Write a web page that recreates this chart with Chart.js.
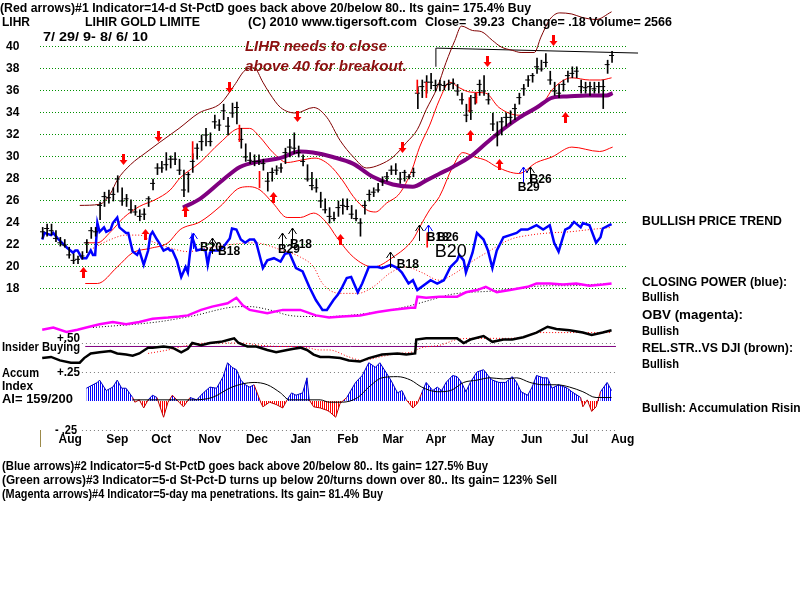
<!DOCTYPE html>
<html><head><meta charset="utf-8">
<script src="https://cdn.jsdelivr.net/npm/chart.js@4.4.1/dist/chart.umd.min.js"></script>
<style>
body{margin:0;background:#fff;}
#wrap{position:relative;width:800px;height:600px;overflow:hidden;background:#fff;}
#c{position:absolute;left:0;top:0;}
.t{position:absolute;white-space:pre;font:bold 12px "Liberation Sans",Arial,sans-serif;line-height:14px;color:#000;transform-origin:0 50%;}
.r{color:#8c1010;font:italic bold 15px "Liberation Sans",Arial,sans-serif;line-height:18px;}
#tick{position:absolute;left:40px;top:430px;width:1px;height:17px;background:#9c8a4a;}
</style></head><body>
<div id="wrap"><canvas id="c" width="800" height="600"></canvas>
<div class="t" data-x="0" data-y="8" data-w="531">(Red arrows)#1 Indicator=14-d St-PctD goes back above 20/below 80.. Its gain= 175.4% Buy</div>
<div class="t" data-x="2" data-y="22" data-w="28">LIHR</div>
<div class="t" data-x="85" data-y="22" data-w="115">LIHIR GOLD LIMITE</div>
<div class="t" data-x="248" data-y="22" data-w="169">(C) 2010 www.tigersoft.com</div>
<div class="t" data-x="425" data-y="22" data-w="247">Close=  39.23  Change= .18 Volume= 2566</div>
<div class="t" data-x="43" data-y="37" data-w="105">7/ 29/ 9- 8/ 6/ 10</div>
<div class="t r" data-x="245" data-y="46" data-w="142">LIHR needs to close</div>
<div class="t r" data-x="245" data-y="66" data-w="162">above 40 for breakout.</div>
<div class="t" data-x="642" data-y="221" data-w="140">BULLISH PRICE TREND</div>
<div class="t" data-x="642" data-y="282" data-w="145">CLOSING POWER (blue):</div>
<div class="t" data-x="642" data-y="297" data-w="37">Bullish</div>
<div class="t" data-x="642" data-y="315" data-w="101">OBV (magenta):</div>
<div class="t" data-x="642" data-y="331" data-w="37">Bullish</div>
<div class="t" data-x="642" data-y="348" data-w="151">REL.STR..VS DJI (brown):</div>
<div class="t" data-x="642" data-y="364" data-w="37">Bullish</div>
<div class="t" data-x="642" data-y="408" data-w="166">Bullish: Accumulation Rising</div>
<div class="t" data-x="2" data-y="347" data-w="78">Insider Buying</div>
<div class="t" data-x="2" data-y="373" data-w="37">Accum</div>
<div class="t" data-x="2" data-y="386" data-w="31">Index</div>
<div class="t" data-x="2" data-y="399" data-w="71">AI= 159/200</div>
<div class="t" data-x="57" data-y="338" data-w="23">+.50</div>
<div class="t" data-x="57" data-y="372" data-w="23">+.25</div>
<div class="t" data-x="55" data-y="430" data-w="22">- .25</div>
<div class="t" data-x="2" data-y="466" data-w="486">(Blue arrows)#2 Indicator=5-d St-PctD goes back above 20/below 80.. Its gain= 127.5% Buy</div>
<div class="t" data-x="2" data-y="480" data-w="555">(Green arrows)#3 Indicator=5-d St-Pct-D turns up below 20/turns down over 80.. Its gain= 123% Sell</div>
<div class="t" data-x="2" data-y="494" data-w="381">(Magenta arrows)#4 Indicator=5-day ma penetrations. Its gain= 81.4% Buy</div>
<div id="tick"></div>
</div>
<script>
// ---------- DATA (x = trading-day index from 7/29/09) ----------
const monthLabels = ['Aug','Sep','Oct','Nov','Dec','Jan','Feb','Mar','Apr','May','Jun','Jul','Aug'];
const monthPos = [12.7,34,53.9,76,97.3,117.2,138.5,159,178.4,199.6,221.8,243.5,263];
const priceTicks = [18,20,22,24,26,28,30,32,34,36,38,40];

const barLow = [22.6,22.8,22.9,22.3,21.9,21.8,20.8,20.3,20.3,20.7,
21.3,22.6,22.8,24.3,25.5,25.8,26.0,26.8,25.6,25.5,
24.9,24.7,24.2,24.3,25.5,27.0,28.4,28.6,28.8,29.0,
29.3,28.4,26.4,26.8,28.6,29.8,30.6,31.0,31.0,32.6,
32.4,33.4,32.0,33.6,33.0,30.8,29.6,29.4,29.2,29.3,
28.8,26.9,27.8,28.4,28.6,29.4,30.0,30.3,30.0,29.2,
27.8,27.0,26.8,25.4,24.9,24.0,24.2,24.6,24.8,25.2,
24.4,24.2,22.8,24.8,26.0,26.4,26.8,27.4,27.8,28.4,
28.4,27.6,27.8,28.0,28.2,34.4,35.4,35.8,36.2,36.0,
36.0,36.1,36.1,36.2,35.6,34.8,33.2,33.4,34.8,35.6,
35.6,34.8,32.4,31.0,32.0,32.8,33.0,33.4,34.8,35.6,
36.4,36.8,37.6,37.8,38.2,36.6,35.6,35.4,36.0,36.8,
37.2,37.2,35.8,35.8,35.6,35.8,35.8,34.4,37.6,38.6];
const barHigh = [23.6,23.9,23.9,23.3,22.7,22.5,21.8,21.2,21.0,21.4,
22.5,23.6,23.6,25.9,26.8,27.0,27.2,28.3,27.2,26.6,
26.1,25.6,25.2,25.3,26.4,28.0,29.4,29.6,30.4,30.1,
30.4,29.8,28.8,28.6,30.3,31.2,32.0,32.6,32.2,33.8,
33.4,34.8,33.6,34.9,35.0,32.6,31.2,30.4,30.2,30.2,
29.8,28.6,29.0,29.2,29.4,30.8,31.6,32.2,31.0,30.2,
29.3,28.6,28.0,26.8,26.2,25.4,25.0,26.0,26.2,26.2,
25.6,25.2,24.4,26.0,27.0,27.2,27.6,28.2,28.6,29.2,
29.4,28.6,28.8,28.4,29.0,36.4,37.0,37.4,37.6,37.0,
37.0,36.9,37.0,37.1,36.6,35.8,34.8,35.6,35.8,37.0,
37.4,35.8,34.0,33.2,33.6,34.0,34.2,34.8,35.8,36.6,
37.4,37.6,39.0,38.8,39.4,37.8,36.8,36.6,37.0,37.8,
38.2,38.2,37.0,36.8,36.8,36.8,36.8,37.0,38.8,39.6];
const barClose = [23.2,23.5,23.3,22.6,22.2,22.0,21.1,20.6,20.7,21.0,
22.2,23.3,23.2,25.6,26.4,26.3,26.6,28.0,26.0,26.2,
25.2,25.0,24.6,24.8,26.2,27.6,29.0,29.0,29.3,29.8,
29.8,28.8,27.0,28.4,29.6,30.8,31.4,32.0,31.4,33.2,
32.9,34.2,32.8,34.0,34.5,31.6,30.0,29.7,29.6,29.6,
29.4,27.8,28.6,28.8,29.0,30.4,30.9,30.8,30.4,29.6,
28.0,27.4,27.2,26.0,25.2,24.6,24.4,25.4,25.6,25.5,
24.8,24.4,24.0,25.6,26.6,26.8,27.0,27.8,28.2,28.8,
28.8,28.0,28.6,28.2,28.6,35.8,36.4,36.8,36.8,36.5,
36.6,36.5,36.6,36.7,36.0,35.2,33.8,34.2,35.4,36.6,
36.0,35.2,33.0,32.0,33.2,33.6,33.6,34.4,35.4,36.2,
37.0,37.4,38.2,38.0,38.6,37.0,36.0,35.8,36.6,37.4,
37.6,37.8,36.4,36.3,36.4,36.2,36.4,36.4,38.4,39.23];
const barDays = barClose.map((_, k) => 2 * k);

const upperBand = [[17,25.6],[26,25.7],[31,26.7],[34,27.9],[40,29.3],[47,30.4],[53,31.3],[62,32.6],[71,34.0],[81,34.9],[87,36.5],[92,37.9],[96,38.1],[100,36.8],[103,35.8],[108,34.5],[115,34.0],[123,34.5],[129,33.6],[135,31.5],[141,30.0],[147,29.0],[153,29.3],[159,30.0],[165,31.3],[170,32.5],[174,34.3],[179,36.3],[183,38.6],[187,40.6],[190,41.9],[195,41.5],[199,41.4],[204,40.6],[208,40.0],[213,39.7],[217,39.5],[223,39.5],[226,40.9],[230,42.5],[234.5,43.1],[240,43.0],[244.5,42.7],[251,42.5],[258,43.2]];
const midBand = [[19.5,22.2],[25,22.2],[31,23.2],[37,24.5],[44,25.5],[51,26.1],[58,27.0],[62.5,28.1],[71.5,29.5],[80.6,31.3],[89.6,32.6],[94,32.6],[98.7,31.8],[104.6,30.4],[111,29.5],[117,29.7],[123.6,29.9],[130,29.3],[136,27.9],[141,26.4],[147,25.2],[151,25.0],[156,25.8],[162,26.7],[167.5,28.8],[171,30.9],[175.6,32.9],[180,35.2],[184.7,36.8],[189,36.3],[194,35.9],[201,35.8],[207,34.5],[216,33.8],[221,34.0],[228,35.2],[231,36.1],[240,37.2],[248,37.0],[253,37.0],[258,37.2]];
const lowBand = [[19.5,18.5],[25,18.5],[34,20.0],[41,21.3],[49,21.7],[57,22.2],[62.5,23.4],[71.5,24.1],[80.6,25.5],[89.6,27.2],[94,27.3],[98.7,27.0],[104.6,25.8],[111,24.5],[117,24.5],[123,24.9],[129,24.0],[133.5,22.7],[141,20.9],[150,20.0],[159,20.9],[168,22.5],[171,23.6],[175.6,25.2],[180,26.4],[186,29.1],[190.6,30.4],[196,30.0],[201,29.7],[206,29.1],[216,28.5],[224,29.5],[231,30.0],[240,30.9],[252.6,30.5],[258.5,30.9]];
const priceMA = [[63.8,25.4],[71.5,26.2],[80.6,27.7],[89.6,29.1],[98.7,29.6],[107.7,29.9],[116.8,30.5],[122.7,30.4],[131.7,30.0],[140.8,29.4],[149.8,28.2],[158.9,27.5],[167.9,27.3],[174.3,27.9],[180.2,28.5],[186.1,29.1],[193.8,30.0],[201.4,31.3],[208.7,32.5],[216.4,33.6],[224.1,34.5],[231.3,35.4],[237.7,35.5],[246.7,35.6],[255.8,35.6],[258.5,35.8]];

const closingPower = [[0,22.5],[1,23.1],[4,22.9],[5,23.1],[7,22.6],[9,22.2],[11,21.8],[14,21.3],[15,21.5],[16,21.5],[18,20.8],[20,20.8],[22,21.5],[23,21.1],[24,21.1],[25,24.0],[26,23.2],[28,23.6],[29,23.2],[31,23.4],[32,24.0],[34,24.5],[35,23.6],[38,23.1],[39,23.1],[41,21.4],[43,21.1],[44,21.5],[46,20.2],[48,21.5],[49,22.9],[50,23.2],[52,22.5],[53,22.2],[55,21.5],[57,21.7],[58,21.5],[59,21.5],[61,20.6],[63,19.1],[65,20.0],[66,19.5],[67,21.3],[68,22.7],[70,21.5],[72,21.6],[74,21.5],[75,20.2],[76,21.3],[77,21.5],[80,21.5],[82,21.8],[85,22.6],[86,23.5],[88,23.4],[90,22.5],[92,22.2],[94,22.5],[96,22.5],[97,22.2],[100,19.9],[102,20.6],[105,20.8],[108,20.5],[110,21.2],[112,21.3],[115,19.9],[118,19.6],[121,18.2],[124,17.0],[126,16.4],[127,16.1],[129,16.1],[132,17.0],[134,17.5],[136,18.2],[138,19.0],[140,19.1],[143,17.7],[145,18.5],[148,20.0],[152,20.0],[154,19.9],[158,20.2],[161,19.9],[163,19.5],[166,18.5],[168,18.8],[170,17.9],[172,18.2],[176,18.8],[179,18.5],[182,18.8],[185,20.0],[188,20.6],[189,21.1],[191,20.6],[192,19.5],[195,21.3],[197,23.1],[200,22.5],[202,21.5],[204,19.9],[206,21.5],[209,22.7],[212,22.9],[215,23.1],[217,23.4],[220,23.4],[222,23.6],[224,23.8],[227,23.4],[230,23.8],[232,22.2],[234,21.4],[237,23.4],[239,23.6],[241,24.1],[244,23.6],[245,24.0],[248,23.8],[251,22.2],[253,22.7],[254,23.5],[257,23.8],[258,23.9]];
const closingPowerMA = [[23,21.7],[31,22.5],[38,22.9],[44,22.9],[50,22.3],[57,21.8],[66,21.4],[77,21.8],[96,22.2],[109,21.5],[117,20.9],[123,20.0],[127,18.5],[135,17.6],[143,17.6],[150,18.2],[158,19.5],[165,20.0],[172,19.5],[180,18.8],[186,19.3],[194,20.4],[203,21.5],[212,22.5],[221,22.9],[230,23.1],[239,23.2],[248,23.4],[258,23.6]];

const obv = [[0,14.3],[5,14.5],[11,14.1],[16,14.3],[20,14.5],[26,14.8],[32,15.0],[38,14.8],[44,15.0],[50,15.3],[57,15.4],[62,15.5],[66,15.6],[72,16.1],[77,16.4],[84,16.7],[88,17.2],[91,16.5],[94,16.1],[102,15.8],[109,16.1],[117,16.1],[124,15.6],[130,15.4],[136,15.5],[144,15.6],[152,15.9],[158,16.1],[167,16.3],[169,16.3],[170,17.3],[174,17.2],[180,17.3],[188,17.3],[192,17.7],[197,17.9],[201,18.2],[206,17.7],[212,17.9],[220,18.2],[224,18.5],[230,18.5],[236,18.4],[242,18.5],[248,18.3],[254,18.4],[258,18.5]];
const obvMA = [[23,14.5],[52,15.0],[67,15.5],[90,16.4],[94,16.4],[103,16.1],[112,15.6],[121,15.5],[130,15.5],[139,15.6],[148,15.8],[158,16.1],[167,16.5],[176,17.0],[185,17.5],[194,17.7],[203,17.8],[212,18.0],[221,18.2],[230,18.3],[239,18.3],[248,18.4],[258,18.5]];

const relStr = [[0,0.37],[4,0.38],[8,0.35],[13,0.33],[17,0.33],[19,0.37],[22,0.41],[26,0.42],[31,0.43],[34,0.41],[38,0.40],[41,0.39],[44,0.41],[48,0.46],[50,0.46],[55,0.47],[59,0.46],[63,0.42],[66,0.45],[68,0.50],[72,0.48],[76,0.50],[81,0.51],[85,0.53],[87,0.54],[89,0.50],[93,0.47],[97,0.47],[102,0.44],[106,0.42],[111,0.44],[114,0.45],[117,0.46],[120,0.44],[123,0.40],[126,0.38],[130,0.38],[135,0.37],[139,0.35],[144,0.34],[148,0.37],[154,0.40],[161,0.41],[165,0.40],[169,0.41],[169.5,0.53],[174,0.54],[180,0.54],[188,0.54],[191,0.50],[194,0.53],[200,0.56],[204,0.51],[209,0.53],[213,0.53],[218,0.55],[224,0.59],[229,0.64],[233,0.62],[239,0.61],[245,0.59],[249,0.57],[254,0.59],[258,0.61]];
const relStrMA = [[48,0.41],[57,0.44],[66,0.48],[75,0.50],[84,0.50],[90,0.50],[99,0.48],[108,0.47],[117,0.47],[126,0.44],[130,0.44],[139,0.38],[145,0.35],[153,0.38],[161,0.41],[167,0.42],[172,0.46],[180,0.48],[188,0.53],[195,0.54],[203,0.54],[210,0.54],[218,0.55],[224,0.59],[230,0.59],[236,0.59],[242,0.59],[248,0.59],[254,0.59],[258,0.59]];
const insiderLine = [[19.5,0.47],[260,0.47]];

const accumIndex = [[20,0.11],[25,0.16],[26,0.18],[29,0.09],[32,0.12],[34,0.18],[36,0.11],[38,0.11],[41,0.03],[42,-0.01],[44,0.01],[46,-0.06],[48,0.01],[50,0.05],[52,0.03],[55,-0.14],[57,-0.01],[59,0.05],[62,-0.01],[64,-0.05],[67,0.03],[70,0.01],[73,0.07],[76,0.12],[79,0.11],[82,0.21],[84,0.33],[86,0.29],[88,0.27],[90,0.18],[92,0.14],[94,0.12],[96,0.14],[99,-0.01],[100,-0.05],[103,-0.01],[106,-0.03],[109,-0.06],[111,0.01],[113,0.07],[115,0.05],[118,0.07],[120,0.20],[121,0.01],[123,-0.05],[126,-0.06],[129,-0.08],[130,-0.09],[133,-0.14],[135,-0.02],[138,0.03],[142,0.16],[145,0.22],[148,0.33],[151,0.29],[153,0.33],[156,0.24],[158,0.18],[161,0.07],[163,0.09],[165,0.01],[168,-0.06],[170,-0.02],[172,0.07],[174,0.16],[177,0.09],[179,0.12],[181,0.09],[183,0.16],[186,0.22],[188,0.21],[190,0.16],[192,0.08],[194,0.16],[197,0.25],[200,0.27],[202,0.22],[204,0.18],[207,0.16],[210,0.16],[213,0.21],[215,0.16],[217,0.08],[220,0.05],[222,0.12],[224,0.22],[227,0.20],[229,0.20],[231,0.11],[234,0.14],[238,0.11],[240,0.08],[244,0.03],[245,-0.05],[247,0.01],[249,-0.09],[251,-0.05],[253,0.08],[256,0.16],[258,0.09]];
const accumMA = [[41,0.01],[50,0.01],[59,0.01],[68,0.01],[77,0.03],[86,0.12],[96,0.16],[102,0.14],[108,0.07],[112,0.01],[120,0.01],[126,0.01],[130,-0.01],[136,-0.01],[143,0.03],[148,0.12],[154,0.20],[161,0.21],[167,0.18],[172,0.12],[179,0.08],[185,0.09],[191,0.16],[197,0.18],[203,0.20],[209,0.19],[215,0.20],[221,0.16],[227,0.14],[233,0.14],[239,0.12],[245,0.08],[251,0.03],[258,0.03]];
const accLevels = [0.5, 0.25, -0.25];
const accLevelSpan = [18, 260];

const resistLine = [[178.4,38.2],[178.4,39.9],[270,39.45]];
const redBars = [[68.4,29.8,31.4],[89.6,31.4,32.9],[98.7,27.2,28.7],[170.2,35.8,37.0],[174.3,35.4,36.8],[174.7,21.8,23.1],[193.8,34.1,35.4],[197,34.9,35.8]];
const redArrowsDown = [[36.7,29.7],[52.5,31.8],[84.7,36.3],[115.4,33.6],[163.0,30.8],[201.4,38.6],[231.3,40.5]];
const redArrowsUp = [[18.6,19.5],[46.6,23.0],[64.7,25.1],[104.6,26.4],[134.9,22.5],[193.8,32.0],[206.9,29.4],[236.8,33.6]];
const signalArrows = [[68.4,23.1,'#0000ff'],[77.0,22.6,'#000'],[108.6,23.1,'#000'],[113.2,23.5,'#000'],[157.5,21.4,'#000'],[170.7,23.8,'#000'],[174.7,23.8,'#0000ff'],[217.7,29.1,'#0000ff'],[220.9,29.1,'#000']];
const signalLabels = [['B20',71.5,21.8,12],['B18',79.7,21.4,12],['B29',106.8,21.6,12],['B18',112.3,22.0,12],['B18',160.7,20.2,12],['B18',174.3,22.7,12],['B26',178.8,22.7,12],['B20',177.9,21.4,18],['B29',215.5,27.2,12],['B26',220.9,27.9,12]];

// ---------- helpers ----------
const pts = a => a.map(p => ({x: p[0], y: p[1]}));
function stripe(color){
  const c = document.createElement('canvas'); c.width = 2; c.height = 1;
  const g = c.getContext('2d'); g.fillStyle = color; g.fillRect(0,0,1,1);
  return g.createPattern(c, 'repeat');
}
const FONT = '"Liberation Sans", Arial, sans-serif';

const marks = {
  id: 'marks',
  beforeDatasetsDraw(chart){
    const {ctx, scales:{x, acc}} = chart;
    ctx.save(); ctx.strokeStyle = '#7a7a7a'; ctx.lineWidth = 1; ctx.setLineDash([1,3]);
    accLevels.forEach(v => {
      const py = Math.round(acc.getPixelForValue(v)) + 0.5;
      ctx.beginPath(); ctx.moveTo(x.getPixelForValue(accLevelSpan[0]), py);
      ctx.lineTo(x.getPixelForValue(accLevelSpan[1]), py); ctx.stroke();
    });
    ctx.restore();
  },
  afterDatasetsDraw(chart){
    const {ctx, scales:{x, y}} = chart;
    ctx.save();
    ctx.fillStyle = '#ff0000';
    redArrowsDown.forEach(([d,p]) => {
      const px = Math.round(x.getPixelForValue(d)), py = Math.round(y.getPixelForValue(p));
      ctx.fillRect(px-1, py-6, 3, 6);
      ctx.beginPath(); ctx.moveTo(px-3.5, py); ctx.lineTo(px+4.5, py); ctx.lineTo(px+0.5, py+5); ctx.closePath(); ctx.fill();
    });
    redArrowsUp.forEach(([d,p]) => {
      const px = Math.round(x.getPixelForValue(d)), py = Math.round(y.getPixelForValue(p));
      ctx.fillRect(px-1, py, 3, 6);
      ctx.beginPath(); ctx.moveTo(px-3.5, py); ctx.lineTo(px+4.5, py); ctx.lineTo(px+0.5, py-5); ctx.closePath(); ctx.fill();
    });
    ctx.lineWidth = 1;
    signalArrows.forEach(([d,p,col]) => {
      const px = Math.round(x.getPixelForValue(d)) + 0.5, py = Math.round(y.getPixelForValue(p));
      ctx.strokeStyle = col; ctx.beginPath();
      ctx.moveTo(px, py); ctx.lineTo(px, py + 16);
      ctx.moveTo(px-4, py+6); ctx.lineTo(px, py); ctx.lineTo(px+4, py+6); ctx.stroke();
    });
    ctx.fillStyle = '#000'; ctx.textBaseline = 'middle'; ctx.textAlign = 'left';
    signalLabels.forEach(([t,d,p,s]) => {
      ctx.font = (s > 14 ? '' : 'bold ') + s + 'px ' + FONT;
      ctx.fillText(t, x.getPixelForValue(d), y.getPixelForValue(p));
    });
    ctx.restore();
  }
};

const line = (data, color, width, extra) => Object.assign({type:'line', data: pts(data), borderColor: color, borderWidth: width, pointRadius: 0, fill: false, yAxisID: 'y'}, extra || {});

const chart = new Chart(document.getElementById('c'), {
  type: 'line',
  data: { datasets: [
    {type:'bar', data: barDays.map((d,k) => ({x:d, y:[barLow[k], barHigh[k]]})), backgroundColor:'#000', barThickness:1, yAxisID:'y', order:1},
    {type:'line', data: barDays.map((d,k) => ({x:d, y:barClose[k]})), showLine:false, pointStyle:'line', pointRadius:2.5, pointBorderColor:'#000', pointBorderWidth:1, yAxisID:'y', order:1},
    {type:'bar', data: redBars.map(r => ({x:r[0], y:[r[1], r[2]]})), backgroundColor:'#ff0000', barThickness:1, yAxisID:'y', order:0},
    line(priceMA, '#800080', 4, {cubicInterpolationMode:'monotone', order:3}),
    line(upperBand, '#800000', 1, {cubicInterpolationMode:'monotone', order:4}),
    line(midBand, '#ff0000', 1, {cubicInterpolationMode:'monotone', order:4}),
    line(lowBand, '#ff0000', 1, {cubicInterpolationMode:'monotone', order:4}),
    line(resistLine, '#000', 1, {order:4, clip:false}),
    line(closingPower, '#0000ff', 2.5, {order:2}),
    line(closingPowerMA, '#ff0000', 1, {borderDash:[1,2], cubicInterpolationMode:'monotone', order:5}),
    line(obv, '#ff00ff', 2.5, {order:5}),
    line(obvMA, '#000', 1, {borderDash:[1,2], cubicInterpolationMode:'monotone', order:6}),
    line(relStr, '#000', 2.5, {yAxisID:'acc', order:3}),
    line(relStrMA, '#ff0000', 1, {yAxisID:'acc', borderDash:[1,2], cubicInterpolationMode:'monotone', order:4}),
    line(insiderLine, '#800080', 1, {yAxisID:'acc', order:7}),
    line(accumIndex, '#0000ff', 1, {yAxisID:'acc', order:8,
      fill:{target:'origin', above: stripe('#0000ff'), below: stripe('#ff0000')},
      segment:{borderColor: c => (c.p0.parsed.y < 0 || c.p1.parsed.y < 0) ? '#c00000' : '#0000c0'}}),
    line(accumMA, '#000', 1, {yAxisID:'acc', cubicInterpolationMode:'monotone', order:2})
  ]},
  options: {
    responsive: false, animation: false, devicePixelRatio: 1,
    layout: {autoPadding: false, padding: {top: 10, bottom: 150, left: 6, right: 173}},
    plugins: {legend: {display: false}, tooltip: {enabled: false}},
    scales: {
      x: {type:'linear', min:-1, max:265, offset:false, grid:{display:false, drawTicks:false, offset:false}, border:{display:false},
          afterFit(s){ s.height = 18; },
          afterBuildTicks(s){ s.ticks = monthPos.map(v => ({value: v})); },
          ticks:{autoSkip:false, maxRotation:0, minRotation:0, padding:0, color:'#000', font:{family:FONT, size:12, weight:'bold'},
                 callback:(v, i) => monthLabels[i]}},
      y: {type:'linear', position:'left', min:5, max:43.3636,
          afterFit(s){ s.width = 34; },
          afterBuildTicks(s){ s.ticks = priceTicks.map(v => ({value: v})); },
          grid:{color:'#009000', drawTicks:false, lineWidth:1}, border:{display:false, dash:[1,2]},
          ticks:{padding:0, crossAlign:'far', color:'#000', font:{family:FONT, size:12, weight:'bold'}, callback: v => String(v)}},
      acc: {type:'linear', position:'right', display:false, min:-0.2672, max:3.3707}
    }
  },
  plugins: [marks]
});

function fitTexts(){
  document.querySelectorAll('.t').forEach(el => {
    el.style.transform = 'none';
    el.style.left = el.dataset.x + 'px';
    const r = el.getBoundingClientRect();
    el.style.top = (parseFloat(el.dataset.y) - r.height / 2) + 'px';
    const w = parseFloat(el.dataset.w);
    if (r.width > 0) el.style.transform = 'scaleX(' + (w / r.width) + ')';
  });
}
fitTexts();
if (document.fonts && document.fonts.ready) document.fonts.ready.then(fitTexts);
</script>
</body></html>
